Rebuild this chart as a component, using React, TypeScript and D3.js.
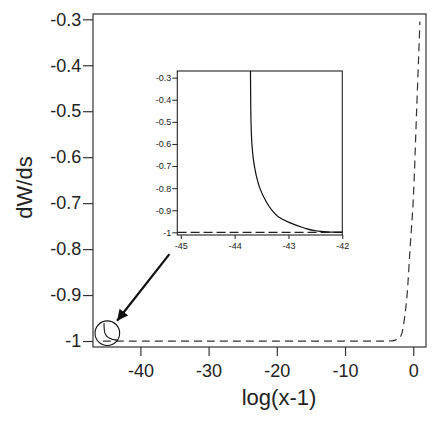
import React, { useEffect, useRef } from 'react';
import * as d3 from 'd3';

// main curve: dW/ds against log(x-1), dashed
const mainX = [-45.5, -30, -10, -4, -3.1, -2.6, -2.2, -1.95, -1.7, -1.47, -0.97, -0.48, 0, 0.5, 0.98];
const mainY = [-1, -1, -1, -1, -0.9995, -0.998, -0.995, -0.992, -0.985, -0.969, -0.911, -0.802, -0.693, -0.497, -0.305];

// zoomed curve shown in the inset (solid)
const zoomX = [-43.706, -43.7, -43.68, -43.65, -43.6, -43.53, -43.43, -43.31, -43.19, -42.97, -42.72, -42.47, -42.22, -42.0];
const zoomY = [-0.27, -0.447, -0.597, -0.673, -0.741, -0.801, -0.854, -0.899, -0.929, -0.957, -0.979, -0.994, -0.999, -0.999];
// dashed reference in the inset
const zoomFlatX = [-45.06, -42.0];
const zoomFlatY = [-1, -1];

const mainXTicks = [-40, -30, -20, -10, 0];
const mainYTicks = [-0.3, -0.4, -0.5, -0.6, -0.7, -0.8, -0.9, -1];
const insetXTicks = [-45, -44, -43, -42];
const insetYTicks = [-0.3, -0.4, -0.5, -0.6, -0.7, -0.8, -0.9, -1];

// magnifier marker on the main plot and the tail of its arrow (data units)
const markerCenter = [-44.85, -0.983];
const arrowTail = [-35.75, -0.811];

const width = 436;
const height = 421;
const ink = '#222';
const font = 'Liberation Sans, Arial, Helvetica, sans-serif';

const App = () => {
  const svgRef = useRef<SVGSVGElement>(null);

  useEffect(() => {
    const svg = d3.select(svgRef.current);
    svg.selectAll('*').remove();

    const x = d3.scaleLinear().domain([-46.95, 1.87]).range([93, 426]);
    const y = d3.scaleLinear().domain([-1.013, -0.2885]).range([347, 14]);

    const defs = svg.append('defs');
    defs.append('marker')
      .attr('id', 'head')
      .attr('viewBox', '0 0 10 10')
      .attr('refX', 10).attr('refY', 5)
      .attr('markerWidth', 6).attr('markerHeight', 5)
      .attr('markerUnits', 'strokeWidth')
      .attr('orient', 'auto')
      .append('path').attr('d', 'M0,0L10,5L0,10z').attr('fill', '#111');

    // frame
    svg.append('rect')
      .attr('x', 93).attr('y', 14).attr('width', 333).attr('height', 333)
      .attr('fill', 'none').attr('stroke', '#333').attr('stroke-width', 1.2);

    const yAxis = svg.append('g')
      .attr('transform', 'translate(93,0)')
      .call(d3.axisLeft(y).tickValues(mainYTicks).tickSize(10).tickPadding(1.7)
        .tickFormat(d => String(+d)));
    const xAxis = svg.append('g')
      .attr('transform', 'translate(0,347)')
      .call(d3.axisBottom(x).tickValues(mainXTicks).tickSize(9).tickPadding(8)
        .tickFormat(d => String(+d)));
    [yAxis, xAxis].forEach(a => {
      a.select('.domain').remove();
      a.selectAll('line').attr('stroke', '#333').attr('stroke-width', 1.2);
      a.selectAll('text').attr('font-family', font).attr('font-size', 18).attr('fill', ink);
    });

    const mainLine = d3.line<number>()
      .x(i => x(mainX[i]))
      .y(i => y(mainY[i]))
      .curve(d3.curveCatmullRom.alpha(0.5));
    svg.append('path')
      .attr('d', mainLine(d3.range(mainX.length)))
      .attr('fill', 'none').attr('stroke', '#333').attr('stroke-width', 1.2)
      .attr('stroke-dasharray', '8,5');

    // magnifier circle with a tiny copy of the zoomed curve
    const cx = x(markerCenter[0]);
    const cy = y(markerCenter[1]);
    const r = 12.3;
    defs.append('clipPath').attr('id', 'lens')
      .append('circle').attr('cx', cx).attr('cy', cy).attr('r', r);
    const mx = d3.scaleLinear().domain([-45, -42]).range([cx - 22.7, cx + 22.3]);
    const my = d3.scaleLinear().domain([-1, -0.27]).range([cy + 7.7, cy - 10.3]);
    const miniLine = d3.line<number>()
      .x(i => mx(zoomX[i]))
      .y(i => my(zoomY[i]))
      .curve(d3.curveMonotoneY);
    svg.append('path')
      .attr('clip-path', 'url(#lens)')
      .attr('d', miniLine(d3.range(zoomX.length)))
      .attr('fill', 'none').attr('stroke', '#111').attr('stroke-width', 1.1);
    svg.append('circle')
      .attr('cx', cx).attr('cy', cy).attr('r', r)
      .attr('fill', 'none').attr('stroke', '#111').attr('stroke-width', 1.1);

    // arrow from inset to the marker
    const tx = x(arrowTail[0]);
    const ty = y(arrowTail[1]);
    const ang = Math.atan2(ty - cy, tx - cx);
    svg.append('line')
      .attr('x1', tx).attr('y1', ty)
      .attr('x2', cx + Math.cos(ang) * (r + 3.5)).attr('y2', cy + Math.sin(ang) * (r + 3.5))
      .attr('stroke', '#111').attr('stroke-width', 2.2)
      .attr('marker-end', 'url(#head)');

    // inset
    const ix = d3.scaleLinear().domain([-45.065, -42.0]).range([177.3, 342.3]);
    const iy = d3.scaleLinear().domain([-1.012, -0.27]).range([235, 71]);
    svg.append('rect')
      .attr('x', 177.3).attr('y', 71).attr('width', 165).attr('height', 164)
      .attr('fill', '#fff').attr('stroke', '#222').attr('stroke-width', 1.1);

    const iyAxis = svg.append('g')
      .attr('transform', 'translate(177.3,0)')
      .call(d3.axisLeft(iy).tickValues(insetYTicks).tickSize(5).tickPadding(1)
        .tickFormat(d => String(+d)));
    const ixAxis = svg.append('g')
      .attr('transform', 'translate(0,235)')
      .call(d3.axisBottom(ix).tickValues(insetXTicks).tickSize(4).tickPadding(3.6)
        .tickFormat(d => String(+d)));
    [iyAxis, ixAxis].forEach(a => {
      a.select('.domain').remove();
      a.selectAll('line').attr('stroke', '#222').attr('stroke-width', 1);
      a.selectAll('text').attr('font-family', font).attr('font-size', 9).attr('fill', ink);
    });

    const flatLine = d3.line<number>()
      .x(i => ix(zoomFlatX[i]))
      .y(i => iy(zoomFlatY[i]));
    svg.append('path')
      .attr('d', flatLine(d3.range(zoomFlatX.length)))
      .attr('fill', 'none').attr('stroke', '#222').attr('stroke-width', 1.2)
      .attr('stroke-dasharray', '9,4');

    const zoomLine = d3.line<number>()
      .x(i => ix(zoomX[i]))
      .y(i => iy(zoomY[i]))
      .curve(d3.curveMonotoneY);
    svg.append('path')
      .attr('d', zoomLine(d3.range(zoomX.length)))
      .attr('fill', 'none').attr('stroke', '#111').attr('stroke-width', 1.2);

    // axis titles
    svg.append('text')
      .attr('x', 279).attr('y', 405)
      .attr('text-anchor', 'middle')
      .attr('font-family', font).attr('font-size', 22).attr('fill', ink)
      .text('log(x-1)');
    svg.append('text')
      .attr('transform', 'translate(32,187.5) rotate(-90)')
      .attr('text-anchor', 'middle')
      .attr('font-family', font).attr('font-size', 22).attr('fill', ink)
      .text('dW/ds');
  }, []);

  return (
    <svg ref={svgRef} width={width} height={height}
      style={{ position: 'absolute', left: 0, top: 0, background: '#fff' }} />
  );
};

export default App;
